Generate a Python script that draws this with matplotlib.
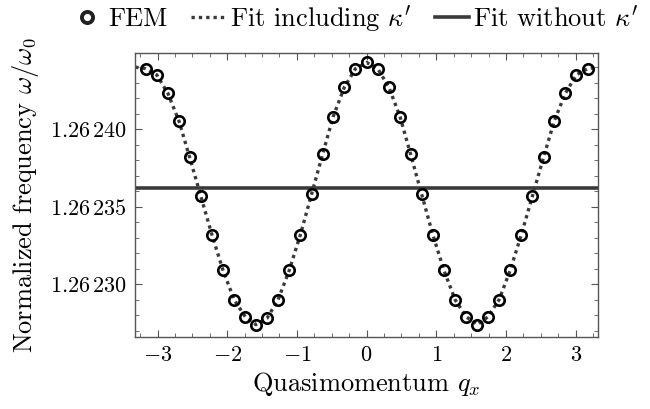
import numpy as np
import matplotlib
matplotlib.use("Agg")
import matplotlib.pyplot as plt
from matplotlib.lines import Line2D

# data
q_fem = [-3.17, -3.01, -2.85, -2.69, -2.54, -2.38, -2.22, -2.06, -1.90, -1.74, -1.59,
         -1.43, -1.27, -1.11, -0.95, -0.79, -0.63, -0.48, -0.32, -0.16, 0.0,
         0.16, 0.32, 0.48, 0.63, 0.79, 0.95, 1.11, 1.27, 1.43, 1.59,
         1.74, 1.90, 2.06, 2.22, 2.38, 2.54, 2.69, 2.85, 3.01, 3.17]
w_fem = [1.262439, 1.262435, 1.262423, 1.262405, 1.262382, 1.262357, 1.262332, 1.262309,
         1.262290, 1.262279, 1.262274, 1.262278, 1.262290, 1.262309, 1.262332, 1.262358,
         1.262384, 1.262408, 1.262427, 1.262439, 1.262443,
         1.262439, 1.262427, 1.262408, 1.262384, 1.262358, 1.262332, 1.262309, 1.262290,
         1.262279, 1.262274, 1.262279, 1.262290, 1.262309, 1.262332, 1.262357, 1.262382,
         1.262405, 1.262423, 1.262435, 1.262439]

# fit including kappa' (same samples, extended to the axis edges)
q_fit = [-3.32] + q_fem + [3.32]
w_fit = [1.262440] + w_fem + [1.262440]

# fit without kappa' (flat)
w_flat = 1.262362

x_ticks = [-3, -2, -1, 0, 1, 2, 3]
x_tick_labels = ['$-3$', '$-2$', '$-1$', '$0$', '$1$', '$2$', '$3$']
y_ticks = [1.26230, 1.26235, 1.26240]
y_tick_labels = [r'$1.26\,230$', r'$1.26\,235$', r'$1.26\,240$']

plt.rcParams['font.family'] = 'serif'
plt.rcParams['font.serif'] = ['cmr10', 'DejaVu Serif']
plt.rcParams['mathtext.fontset'] = 'cm'
plt.rcParams['axes.unicode_minus'] = False

fig = plt.figure(figsize=(6.5, 4.09), dpi=100)
ax = fig.add_axes([0.208, 0.176, 0.712, 0.694])

line_col = '#3a3a3a'
fit_line, = ax.plot(q_fit, w_fit, linestyle=(0, (1, 1.2)), color=line_col, lw=2.4,
                    dash_capstyle='butt', zorder=2)
flat_line = ax.axhline(w_flat, color=line_col, lw=2.6, zorder=2)
ax.plot(q_fem, w_fem, 'o', ms=7.5, mfc='none', mec='black', mew=1.9, zorder=3)

ax.set_xlim(-3.32, 3.32)
ax.set_ylim(1.262266, 1.262449)
ax.set_xticks(x_ticks)
ax.set_xticklabels(x_tick_labels)
ax.set_yticks(y_ticks)
ax.set_yticklabels(y_tick_labels)
ax.set_xticks(np.arange(-3.25, 3.3, 0.25), minor=True)
ax.set_yticks([1.26227, 1.26228, 1.26229, 1.26231, 1.26232, 1.26233, 1.26234,
               1.26236, 1.26237, 1.26238, 1.26239, 1.26241, 1.26242, 1.26243, 1.26244],
              minor=True)
ax.tick_params(which='both', direction='in', top=True, right=True, color='#555555')
ax.tick_params(which='major', length=5, width=0.8, labelsize=16, pad=6)
ax.tick_params(which='minor', length=3, width=0.6)
for s in ax.spines.values():
    s.set_color('#555555')
    s.set_linewidth(1.0)

ax.set_xlabel(r'Quasimomentum $q_x$', fontsize=19, labelpad=4)
ax.set_ylabel(r'Normalized frequency $\omega/\omega_0$', fontsize=19, labelpad=6)

fem_handle = Line2D([], [], ls='none', marker='o', ms=8, mfc='none', mec='#222222', mew=2.8)
fig.legend([fem_handle, fit_line, flat_line],
           ['FEM', r"Fit including $\kappa'$", r"Fit without $\kappa'$"],
           loc='center', bbox_to_anchor=(0.545, 0.955), ncol=3, frameon=False,
           fontsize=19, handlelength=1.3, handletextpad=0.15, columnspacing=0.9,
           borderaxespad=0.0)

fig.savefig('out.png', dpi=100)
